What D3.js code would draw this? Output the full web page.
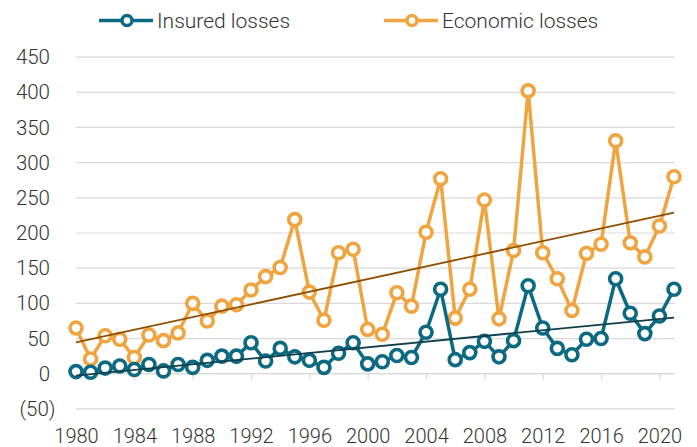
<!DOCTYPE html>
<html>
<head>
<meta charset="utf-8">
<script src="https://cdn.jsdelivr.net/npm/d3@7"></script>
<style>
  html, body { margin: 0; padding: 0; background: #fff; }
  svg { display: block; font-family: Roboto, "Noto Sans", sans-serif; font-weight: 300; }
</style>
</head>
<body>
<svg id="chart" width="697" height="447"></svg>
<script>
// Annual natural catastrophe losses (USD bn), 1980-2021
const years = d3.range(1980, 2022);
const insuredLosses = [3, 2, 8, 11, 6, 13, 4, 13, 9, 19, 25, 25, 44, 18,
  36, 24, 19, 9, 29, 44, 14, 17, 26, 23, 59, 120, 20, 30, 46, 24, 47,
  125, 65, 36, 27, 49, 50, 135, 86, 57, 82, 120];
const economicLosses = [65, 21, 54, 49, 23, 55, 47, 58, 100, 75, 96, 98, 119, 138,
  151, 219, 116, 76, 172, 177, 63, 56, 115, 96, 201, 277, 79, 120, 247, 78, 175,
  402, 172, 135, 90, 171, 184, 331, 186, 166, 210, 280];
const yTicks = [-50, 0, 50, 100, 150, 200, 250, 300, 350, 400, 450];
const xTickYears = d3.range(1980, 2021, 4);
const seriesNames = ["Insured losses", "Economic losses"];

const colors = {
  insured: "#0B6A82",
  economic: "#F0A440",
  insuredTrend: "#0E3F4B",
  economicTrend: "#8E4E00",
  grid: "#d9d9d9",
  text: "#333333"
};

const svg = d3.select("#chart");
const x = d3.scaleLinear().domain([1980, 2021]).range([76, 674]);
const y = d3.scaleLinear().domain([-50, 450]).range([408.9, 57.1]);

// Horizontal gridlines
svg.append("g")
  .selectAll("line")
  .data(yTicks)
  .join("line")
  .attr("x1", 76).attr("x2", 675)
  .attr("y1", d => y(d)).attr("y2", d => y(d))
  .attr("stroke", colors.grid).attr("stroke-width", 1.2);

// Y axis labels (negative values shown in parentheses)
const fmt = d => d < 0 ? `(${Math.abs(d)})` : `${d}`;
const yAxis = d3.axisLeft(y).tickValues(yTicks).tickFormat(fmt).tickSize(0).tickPadding(0);
const gy = svg.append("g").attr("transform", "translate(50,0)").call(yAxis);
gy.select(".domain").remove();
gy.selectAll("text")
  .attr("x", d => d < 0 ? 5.5 : 0)
  .attr("fill", colors.text)
  .style("font-size", "20.5px")
  .style("font-family", "Roboto, sans-serif")
  .style("font-weight", 300);

// X axis along zero line, ticks every four years
const xAxis = d3.axisBottom(x).tickValues(xTickYears).tickFormat(d3.format("d"))
  .tickSize(6).tickPadding(0).tickSizeOuter(0);
const gx = svg.append("g").attr("transform", `translate(0,${y(0)})`).call(xAxis);
gx.select(".domain").attr("stroke", colors.grid).attr("stroke-width", 1.2)
  .attr("d", `M76,0H675`);
gx.selectAll(".tick line").attr("stroke", colors.grid).attr("stroke-width", 1.2);
gx.selectAll("text")
  .attr("y", 0)
  .attr("transform", `translate(0,${443 - y(0)})`)
  .attr("dy", 0)
  .attr("fill", colors.text)
  .style("font-size", "20px")
  .style("font-family", "Roboto, sans-serif")
  .style("font-weight", 300);

// Least-squares trend line
function trend(values) {
  const n = values.length;
  const mx = d3.mean(years), my = d3.mean(values);
  let sxy = 0, sxx = 0;
  years.forEach((yr, i) => { sxy += (yr - mx) * (values[i] - my); sxx += (yr - mx) ** 2; });
  const b = sxy / sxx, a = my - b * mx;
  return [[years[0], a + b * years[0]], [years[n - 1], a + b * years[n - 1]]];
}

const line = d3.line().x(d => x(d[0])).y(d => y(d[1]));

function drawSeries(values, color) {
  const pts = years.map((yr, i) => [yr, values[i]]);
  svg.append("path").datum(pts).attr("d", line)
    .attr("fill", "none").attr("stroke", color).attr("stroke-width", 3.5)
    .attr("stroke-linejoin", "round");
  svg.append("g").selectAll("circle").data(pts).join("circle")
    .attr("cx", d => x(d[0])).attr("cy", d => y(d[1])).attr("r", 6)
    .attr("fill", "#fff").attr("stroke", color).attr("stroke-width", 3.6);
}

drawSeries(economicLosses, colors.economic);
drawSeries(insuredLosses, colors.insured);

svg.append("path").datum(trend(economicLosses)).attr("d", line)
  .attr("fill", "none").attr("stroke", colors.economicTrend).attr("stroke-width", 1.8);
svg.append("path").datum(trend(insuredLosses)).attr("d", line)
  .attr("fill", "none").attr("stroke", colors.insuredTrend).attr("stroke-width", 1.8);

// Legend
const legendItems = [
  { name: seriesNames[0], color: colors.insured, x0: 99, tx: 157 },
  { name: seriesNames[1], color: colors.economic, x0: 384, tx: 442 }
];
const lg = svg.append("g").selectAll("g").data(legendItems).join("g");
lg.append("line")
  .attr("x1", d => d.x0).attr("x2", d => d.x0 + 54)
  .attr("y1", 20.5).attr("y2", 20.5)
  .attr("stroke", d => d.color).attr("stroke-width", 3.5);
lg.append("circle")
  .attr("cx", d => d.x0 + 28).attr("cy", 20.5).attr("r", 5)
  .attr("fill", "#fff").attr("stroke", d => d.color).attr("stroke-width", 3.5);
lg.append("text")
  .attr("x", d => d.tx).attr("y", 28)
  .attr("fill", colors.text)
  .style("font-size", "21px")
  .text(d => d.name);
</script>
</body>
</html>
